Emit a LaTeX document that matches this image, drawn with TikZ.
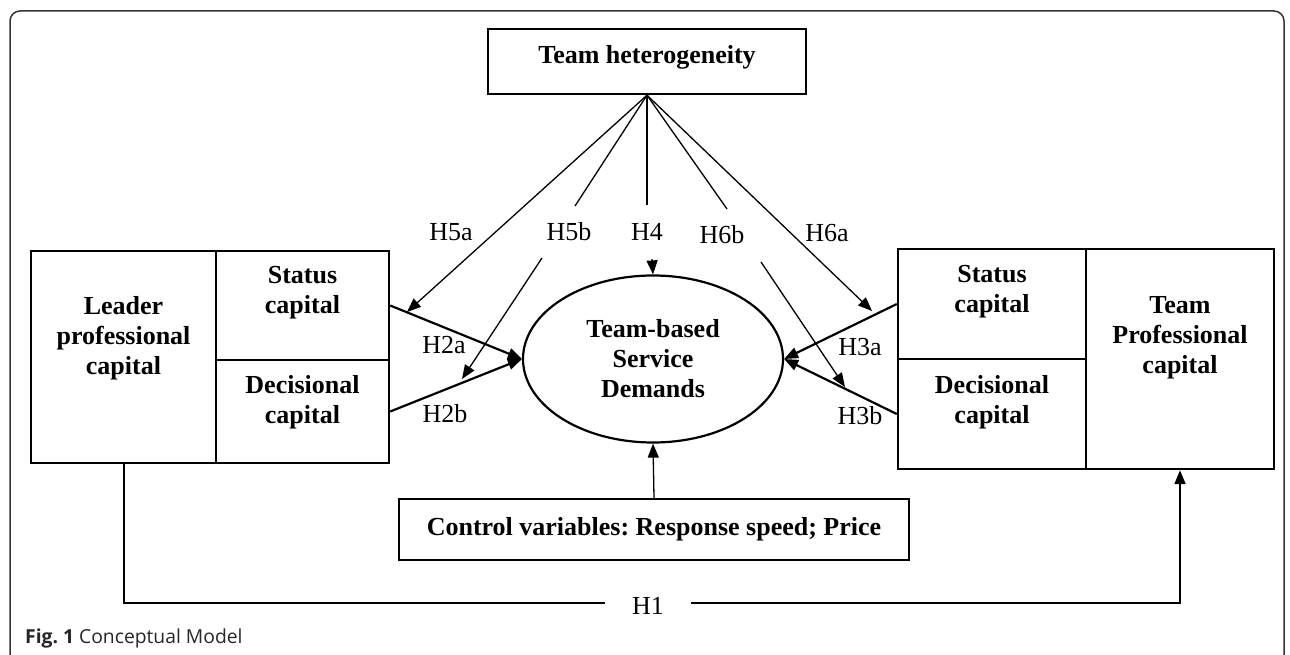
\documentclass[tikz,border=0pt]{standalone}
\usepackage{fontspec}
\setmainfont{Liberation Serif}
\newfontfamily\capfont{Open Sans}
\usetikzlibrary{shapes.geometric,arrows.meta}
\frenchspacing
\begin{document}
\begin{tikzpicture}[x=1pt,y=-1pt,
  box/.style={draw, line width=2.4pt, inner sep=0pt},
  txt/.style={font=\fontsize{26}{30}\selectfont\bfseries, align=center, inner sep=0pt},
  lab/.style={font=\fontsize{26}{30}\selectfont, inner sep=0pt},
  thinline/.style={line width=1.3pt},
  thickline/.style={line width=2.2pt},
  arr/.style={-{Triangle[length=14pt,width=11pt]}}
]
\useasboundingbox (0,0) rectangle (1290,655);
% frame
\draw[line width=1.5pt, black!80, rounded corners=10pt] (10,655) -- (10,11) -- (1284,11) -- (1284,655);

% top box
\node[box, minimum width=318pt, minimum height=65pt] (th) at (647,61.5) {};
\node[txt] (tht) at (647,57) {Team heterogeneity};

% ellipse
\node[draw, ellipse, line width=2.2pt, minimum width=260pt, minimum height=167pt, txt] (tsd) at (653,359) {Team-based\\Service\\Demands};

% left block
\node[box, minimum width=185pt, minimum height=212pt] (lpc) at (123.5,357) {};
\node[box, minimum width=173pt, minimum height=109pt] (lsc) at (302.5,305.5) {};
\node[box, minimum width=173pt, minimum height=103pt] (ldc) at (302.5,411.5) {};
\node[txt] (lpct) at (123.5,338.5) {Leader\\professional\\capital};
\node[txt] (lsct) at (302.5,293) {Status\\capital};
\node[txt] (ldct) at (302.5,402) {Decisional\\capital};

% right block
\node[box, minimum width=188pt, minimum height=110pt] (rsc) at (992,304) {};
\node[box, minimum width=188pt, minimum height=110pt] (rdc) at (992,414) {};
\node[box, minimum width=188pt, minimum height=220pt] (rtpc) at (1180,359) {};
\node[txt] (rsct) at (992,292) {Status\\capital};
\node[txt] (rdct) at (992,402) {Decisional\\capital};
\node[txt] (rtpct) at (1180,337.5) {Team\\Professional\\capital};

% control box
\node[box, minimum width=510pt, minimum height=61pt, txt] (cv) at (654,529.5) {Control variables: Response speed; Price};

% coordinates
\coordinate (h5at) at (407,312);
\coordinate (h5bu) at (575,206);
\coordinate (h5bl) at (542,258);
\coordinate (h5bt) at (462,379);
\coordinate (h4u) at (647,205);
\coordinate (h4l) at (652,259);
\coordinate (h6bu) at (727,209);
\coordinate (h6bl) at (761,262);
\coordinate (h6bt) at (845,387);
\coordinate (h6at) at (872,311);
\coordinate (h1l) at (605,603);
\coordinate (h1r) at (691,603);

% moderation lines
\draw[thinline, arr] (th.south) -- (h5at);
\draw[thinline] (th.south) -- (h5bu);
\draw[thinline, arr] (h5bl) -- (h5bt);
\draw[thinline] (th.south) -- (h4u);
\draw[thinline, arr] (h4l) -- (tsd.north);
\draw[thinline] (th.south) -- (h6bu);
\draw[thinline, arr] (h6bl) -- (h6bt);
\draw[thinline, arr] (th.south) -- (h6at);

% direct effects
\draw[thickline, arr] (lsc.east) -- (tsd.west);
\draw[thickline, arr] (ldc.east) -- (tsd.west);
\draw[thickline, arr] (rsc.west) -- (tsd.east);
\draw[thickline, arr] (rdc.west) -- (tsd.east);
\draw[thinline, arr] (cv.north) -- (tsd.south);

% H1
\draw[line width=2pt] (lpc.south) |- (h1l);
\draw[line width=2pt, arr] (h1r) -| (rtpc.south);

% labels
\node[lab] (l5a) at (451,232) {H5a};
\node[lab] (l5b) at (569,232) {H5b};
\node[lab] (l4) at (647,232) {H4};
\node[lab] (l6b) at (722,235) {H6b};
\node[lab] (l6a) at (827,233) {H6a};
\node[lab] (l2a) at (444,345) {H2a};
\node[lab] (l2b) at (445,414) {H2b};
\node[lab] (l3a) at (860,347) {H3a};
\node[lab] (l3b) at (860,416) {H3b};
\node[lab] (l1) at (648,606) {H1};

% caption
\node[anchor=base west, inner sep=0pt, font=\capfont\fontsize{19.3}{23}\selectfont, text=black!85] (cap) at (25,643) {\textbf{Fig. 1} Conceptual Model};
\end{tikzpicture}
\end{document}
